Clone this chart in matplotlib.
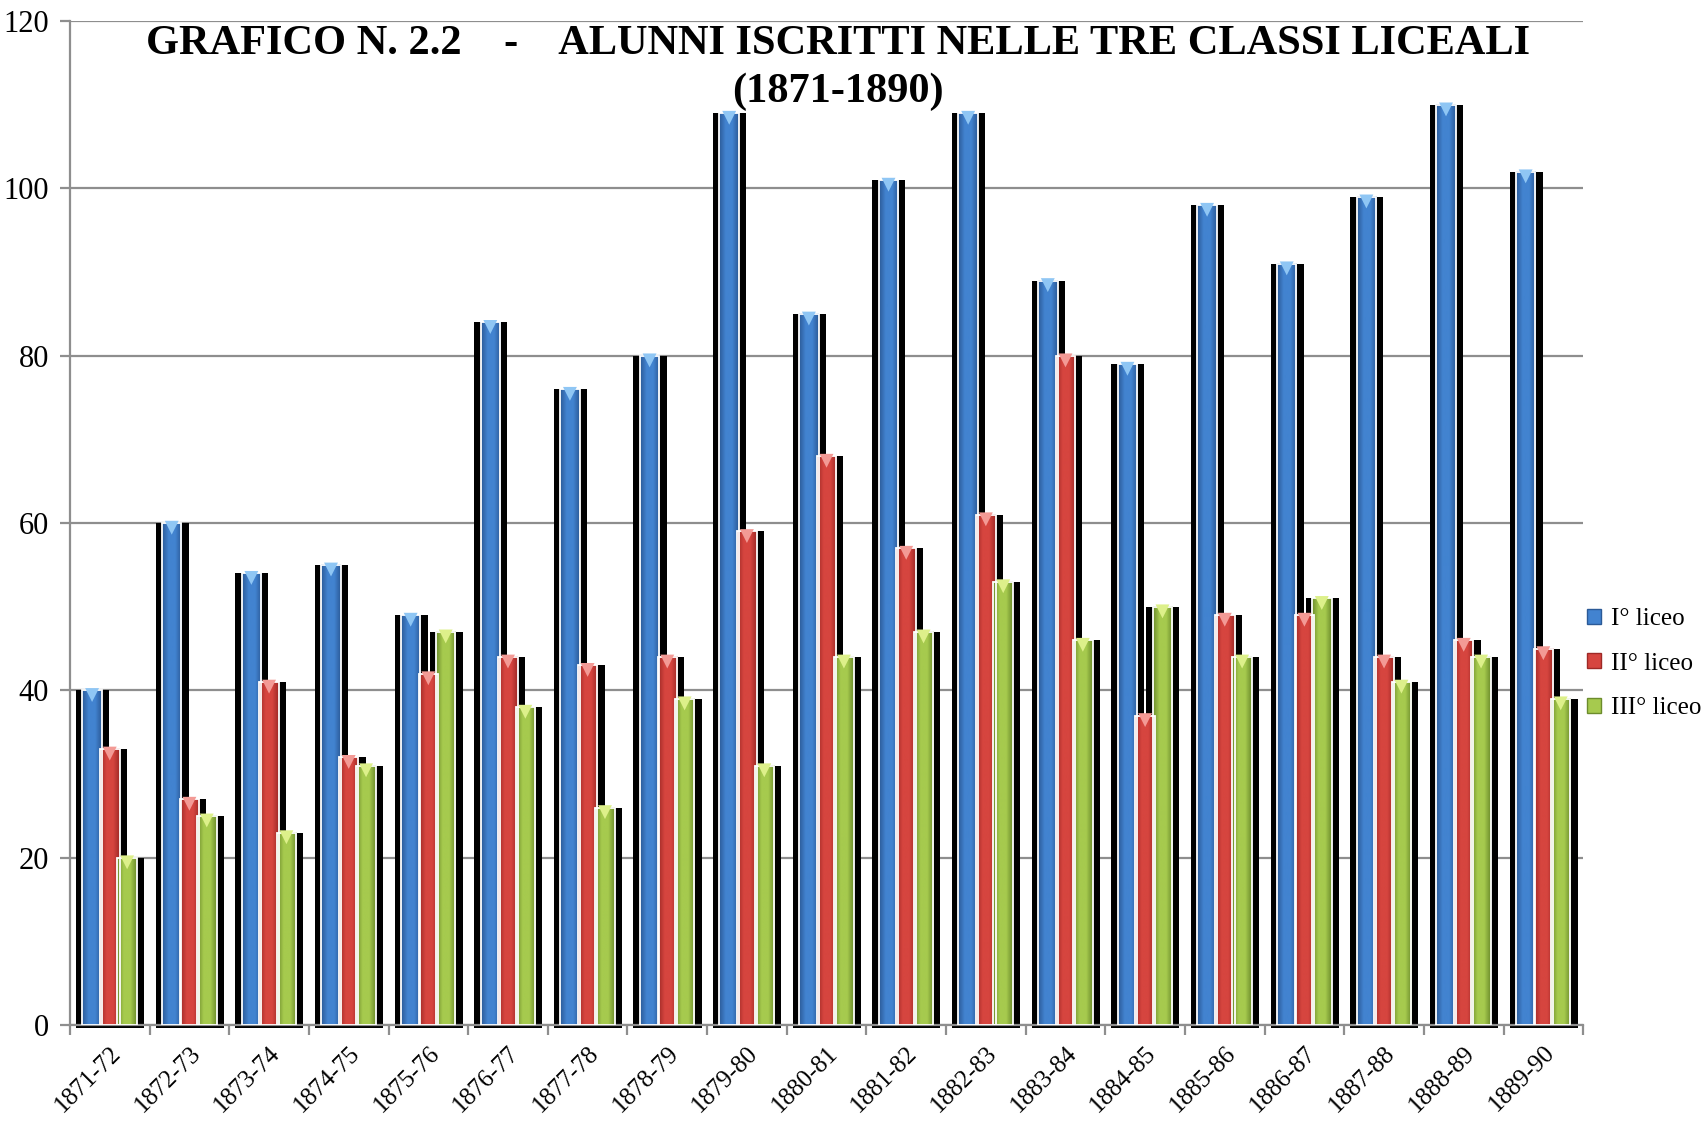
import matplotlib
matplotlib.use("Agg")
import matplotlib.pyplot as plt
import numpy as np
from matplotlib.colors import LinearSegmentedColormap

# anni scolastici
anni = ["1871-72", "1872-73", "1873-74", "1874-75", "1875-76", "1876-77",
        "1877-78", "1878-79", "1879-80", "1880-81", "1881-82", "1882-83",
        "1883-84", "1884-85", "1885-86", "1886-87", "1887-88", "1888-89",
        "1889-90"]

primo_liceo = [40, 60, 54, 55, 49, 84, 76, 80, 109, 85, 101, 109, 89, 79, 98, 91, 99, 110, 102]
secondo_liceo = [33, 27, 41, 32, 42, 44, 43, 44, 59, 68, 57, 61, 80, 37, 49, 49, 44, 46, 45]
terzo_liceo = [20, 25, 23, 31, 47, 38, 26, 39, 31, 44, 47, 53, 46, 50, 44, 51, 41, 44, 39]

serie = [("I° liceo", primo_liceo), ("II° liceo", secondo_liceo), ("III° liceo", terzo_liceo)]

# edge, center, triangle colours
colori = [("#2B5A97", "#4283D0", "#8FC6F4"),
          ("#9E2926", "#D6453F", "#F39A95"),
          ("#6C8C2C", "#A6CA4E", "#DDF08A")]

serif = ["Liberation Serif", "DejaVu Serif"]

fig = plt.figure(figsize=(17.06, 11.21), dpi=100)
ax = fig.add_axes([0.041, 0.0856, 0.887, 0.8955])

x = np.arange(len(anni))
offsets = [-0.222, 0.0, 0.218]
bw = 0.245

# black shadows first, behind every bar
for (nome, vals), off in zip(serie, offsets):
    ax.bar(x + off + 0.005, np.array(vals) + 0.4, width=bw + 0.17, bottom=-0.4,
           color="black", zorder=2, clip_on=False)

# coloured bars with horizontal gradient
for (nome, vals), off, (c_edge, c_mid, c_tri) in zip(serie, offsets, colori):
    cmap = LinearSegmentedColormap.from_list(nome, [c_edge, c_mid, c_mid, c_edge])
    grad = np.linspace(0, 1, 64).reshape(1, -1)
    for xi, v in zip(x, vals):
        ax.imshow(grad, extent=(xi + off - bw / 2, xi + off + bw / 2, 0, v),
                  aspect="auto", cmap=cmap, zorder=3, interpolation="bilinear")
    ax.bar(x + off, vals, width=bw, facecolor="none", edgecolor="white",
           linewidth=1.3, zorder=4)
    ax.scatter(x + off, np.array(vals) - 0.55, marker="v", s=100, color=c_tri,
               edgecolors="none", zorder=5)
    # proxy for legend
    ax.bar([0], [0], color=c_mid, edgecolor=c_edge, label=nome, width=0)

ax.set_xlim(-0.5, len(anni) - 0.5)
ax.set_ylim(0, 120)
ax.set_yticks(range(0, 121, 20))
ax.yaxis.grid(True, color="#8E8E8E", linewidth=1.6, zorder=0)
ax.set_axisbelow(True)

for s in ["top", "right"]:
    ax.spines[s].set_visible(False)
for s in ["left", "bottom"]:
    ax.spines[s].set_color("#8E8E8E")
    ax.spines[s].set_linewidth(1.6)

ax.set_xticks(x)
ax.set_xticklabels(anni, rotation=45, ha="right", va="top", rotation_mode="anchor",
                   family=serif, fontsize=18)
ax.set_xticks(np.arange(-0.5, len(anni)), minor=True)
ax.tick_params(axis="x", which="major", length=0, pad=12)
ax.tick_params(axis="x", which="minor", length=7, width=1.6, color="#8E8E8E")
ax.tick_params(axis="y", length=7, width=1.6, color="#8E8E8E", pad=8)
for lab in ax.get_yticklabels():
    lab.set_family(serif)
    lab.set_fontsize(22)

fig.text(0.491, 0.952, "GRAFICO N. 2.2    -    ALUNNI ISCRITTI NELLE TRE CLASSI LICEALI",
         ha="center", va="baseline", family=serif, fontsize=30.5, fontweight="bold")
fig.text(0.491, 0.909, "(1871-1890)", ha="center", va="baseline", family=serif,
         fontsize=30.5, fontweight="bold")

leg = ax.legend(loc="center left", bbox_to_anchor=(1.0, 0.36), frameon=False,
                prop={"family": serif, "size": 18}, handlelength=0.55, handleheight=0.55,
                labelspacing=0.9, handletextpad=0.4, borderaxespad=0.15, borderpad=0)

fig.savefig("out.png", dpi=100)
